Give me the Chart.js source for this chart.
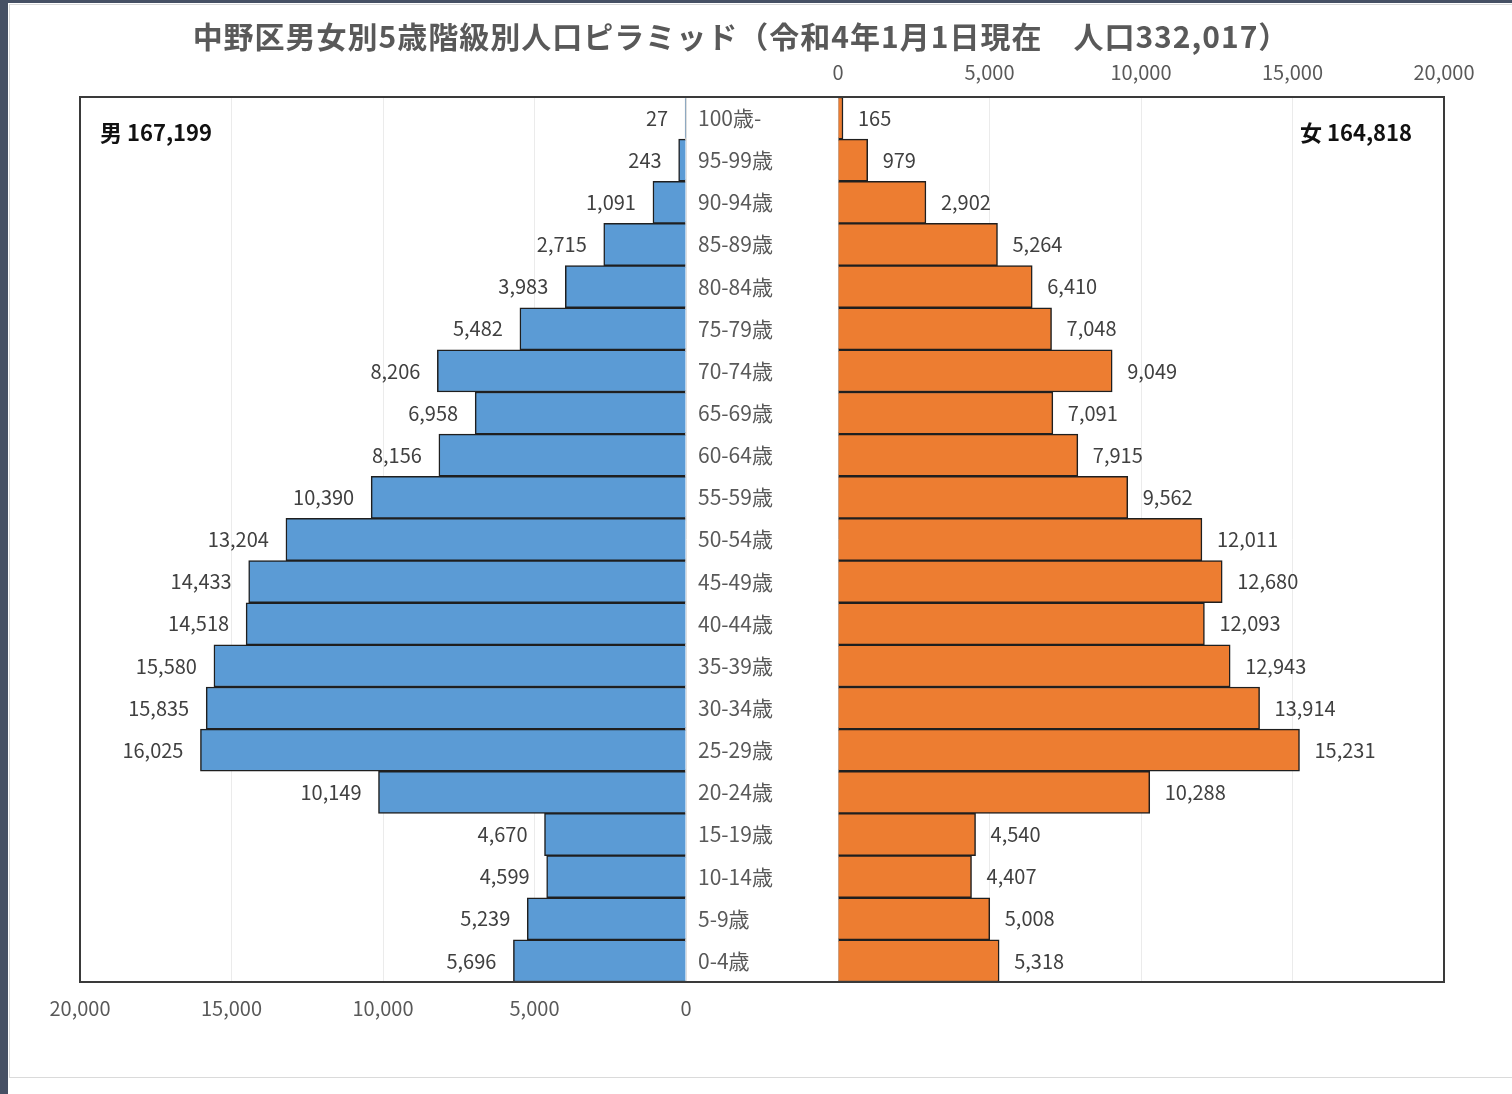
<!DOCTYPE html>
<html lang="ja">
<head>
<meta charset="utf-8">
<title>中野区男女別5歳階級別人口ピラミッド</title>
<script src="https://cdn.jsdelivr.net/npm/chart.js@4.4.1/dist/chart.umd.min.js"></script>
<style>
	body { margin: 0; background: #fff; width: 1512px; height: 1094px; overflow: hidden; position: relative; font-family: "Noto Sans CJK JP", sans-serif; }
	#stripL { position: absolute; left: 0; top: 0; width: 8px; height: 1094px; background: #465064; }
	#stripT { position: absolute; left: 0; top: 0; width: 1512px; height: 3px; background: #465064; }
	#panel { position: absolute; left: 9px; top: 4px; width: 1503px; height: 1074px; box-sizing: border-box; border: 1px solid #dadada; border-right: none; }
	canvas { position: absolute; top: 0; }
	#cL { left: 0; }
	#cR { left: 686px; }
	#frame { position: absolute; left: 79px; top: 96px; width: 1366px; height: 887px; box-sizing: border-box; border: 2px solid #3a3a3a; pointer-events: none; }
	#title { position: absolute; left: 0; width: 1482px; top: 13px; text-align: center; font-size: 30px; letter-spacing: 1px; font-weight: bold; color: #595959; white-space: pre; }
	.total { position: absolute; top: 115px; font-size: 22px; font-weight: bold; color: #111; }
	#totM { left: 100px; }
	#totF { right: 100px; }
</style>
</head>
<body>
<div id="stripT"></div>
<div id="stripL"></div>
<div id="panel"></div>
<canvas id="cL" width="700" height="1060"></canvas>
<canvas id="cR" width="826" height="1060"></canvas>
<div id="frame"></div>
<div id="title"></div>
<div class="total" id="totM"></div>
<div class="total" id="totF"></div>
<script>
const ageGroups = ['100歳-', '95-99歳', '90-94歳', '85-89歳', '80-84歳', '75-79歳', '70-74歳', '65-69歳', '60-64歳', '55-59歳', '50-54歳',
	'45-49歳', '40-44歳', '35-39歳', '30-34歳', '25-29歳', '20-24歳', '15-19歳', '10-14歳', '5-9歳', '0-4歳'];
const male = [27, 243, 1091, 2715, 3983, 5482, 8206, 6958, 8156, 10390, 13204,
	14433, 14518, 15580, 15835, 16025, 10149, 4670, 4599, 5239, 5696];
const female = [165, 979, 2902, 5264, 6410, 7048, 9049, 7091, 7915, 9562, 12011,
	12680, 12093, 12943, 13914, 15231, 10288, 4540, 4407, 5008, 5318];
const axisTicks = [0, 5000, 10000, 15000, 20000];

const fontFam = '"Noto Sans CJK JP", sans-serif';
const fmt = v => v.toLocaleString('en-US');
const sum = a => a.reduce((s, v) => s + v, 0);

document.getElementById('title').textContent = '中野区男女別5歳階級別人口ピラミッド（令和4年1月1日現在　人口' + fmt(sum(male) + sum(female)) + '）';
document.getElementById('totM').textContent = '男 ' + fmt(sum(male));
document.getElementById('totF').textContent = '女 ' + fmt(sum(female));

// value labels at the end of each bar
function valueLabels(side) {
	return {
		id: 'valueLabels' + side,
		afterDatasetsDraw(chart) {
			let ctx = chart.ctx;
			let meta = chart.getDatasetMeta(0);
			let data = chart.data.datasets[0].data;
			ctx.save();
			ctx.font = '20px ' + fontFam;
			ctx.fillStyle = '#404040';
			ctx.textBaseline = 'middle';
			ctx.textAlign = side === 'L' ? 'right' : 'left';
			meta.data.forEach((el, i) => {
				let x = side === 'L' ? el.x - 17 : el.x + 15;
				ctx.fillText(fmt(data[i]), x, el.y);
			});
			ctx.restore();
		}
	};
}

function xScale(position, reverse, pad) {
	return {
		type: 'linear',
		position: position,
		reverse: reverse,
		min: 0,
		max: 20000,
		afterBuildTicks: s => { s.ticks = axisTicks.map(v => ({ value: v })); },
		afterFit: s => { s.height = position === 'top' ? 97 : 78; },
		grid: {
			drawTicks: false,
			color: c => c.tick && c.tick.value === 0 ? (position === 'top' ? '#b8b8b8' : '#dedede') : '#ebebeb'
		},
		border: { display: false },
		ticks: {
			padding: pad,
			color: '#595959',
			font: { size: 20, family: fontFam },
			callback: v => fmt(v)
		}
	};
}

function createPyramidSide(elID, data, color, side) {
	let ctx = document.getElementById(elID).getContext('2d');
	let yAxis = side === 'L'
		? { type: 'category', display: false }
		: {
			type: 'category',
			position: 'left',
			afterFit: s => { s.width = 140; },
			grid: { display: false },
			border: { display: false },
			ticks: {
				crossAlign: 'far',
				padding: 0,
				autoSkip: false,
				color: '#595959',
				font: { size: 21, family: fontFam }
			}
		};
	return new Chart(ctx, {
		type: 'bar',
		data: {
			labels: ageGroups,
			datasets: [{
				data: data,
				backgroundColor: color,
				borderColor: '#1f1f1f',
				borderWidth: 1.5,
				barPercentage: 1,
				categoryPercentage: 1
			}]
		},
		options: {
			indexAxis: 'y',
			responsive: false,
			animation: false,
			layout: {
				padding: side === 'L'
					? { left: 80, right: 14, top: 97, bottom: 0 }
					: { left: 12, right: 68, top: 0, bottom: 78 }
			},
			scales: {
				x: side === 'L' ? xScale('bottom', true, 14) : xScale('top', false, 13),
				y: yAxis
			},
			plugins: {
				legend: { display: false },
				tooltip: { enabled: false }
			}
		},
		plugins: [valueLabels(side)]
	});
}

createPyramidSide('cL', male, '#5B9BD5', 'L');
createPyramidSide('cR', female, '#ED7D31', 'R');
</script>
</body>
</html>
